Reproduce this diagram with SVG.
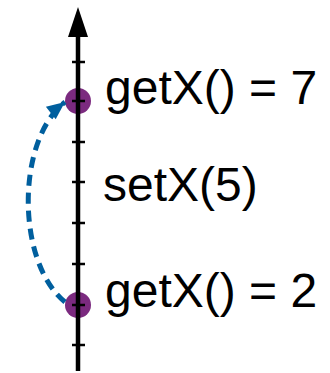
<svg xmlns="http://www.w3.org/2000/svg" width="330" height="373" viewBox="0 0 330 373">
<style>
.lbl{font-family:"Liberation Sans",Arial,sans-serif;font-size:48px;fill:#000}
.dot{fill:#7b2a7f}
.tick{stroke:#000;stroke-width:2.5}
.conn{fill:none;stroke:#005f9e;stroke-width:5;stroke-dasharray:11 7}
</style>
<defs>
<marker id="ah" markerUnits="userSpaceOnUse" markerWidth="22" markerHeight="22" viewBox="-20 -11 22 22" refX="0" refY="0" orient="auto">
<path d="M0,0 L-18,-8 L-18,8 z" fill="#005f9e"/>
</marker>
</defs>
<g id="dots">
<circle class="dot" cx="78" cy="101" r="13"/>
<circle class="dot" cx="78" cy="305" r="13"/>
</g>
<g id="axis">
<line x1="78" y1="30" x2="78" y2="371" stroke="#000" stroke-width="4.5"/>
<path d="M78,7 L88,37 L68,37 z" fill="#000"/>
<line class="tick" x1="72" y1="62" x2="85" y2="62"/>
<line class="tick" x1="72" y1="101" x2="85" y2="101"/>
<line class="tick" x1="72" y1="142" x2="85" y2="142"/>
<line class="tick" x1="72" y1="182" x2="85" y2="182"/>
<line class="tick" x1="72" y1="223" x2="85" y2="223"/>
<line class="tick" x1="72" y1="264" x2="85" y2="264"/>
<line class="tick" x1="72" y1="305" x2="85" y2="305"/>
<line class="tick" x1="72" y1="345" x2="85" y2="345"/>
</g>
<g id="get7">
<text class="lbl" x="105" y="104">getX() = 7</text>
</g>
<g id="set5">
<text class="lbl" x="103" y="201">setX(5)</text>
</g>
<g id="get2">
<text class="lbl" x="105" y="307">getX() = 2</text>
</g>
<g id="connectors">
<path class="conn" d="M65,302 C16,262 16,140 65,102" marker-end="url(#ah)"/>
</g>
</svg>
